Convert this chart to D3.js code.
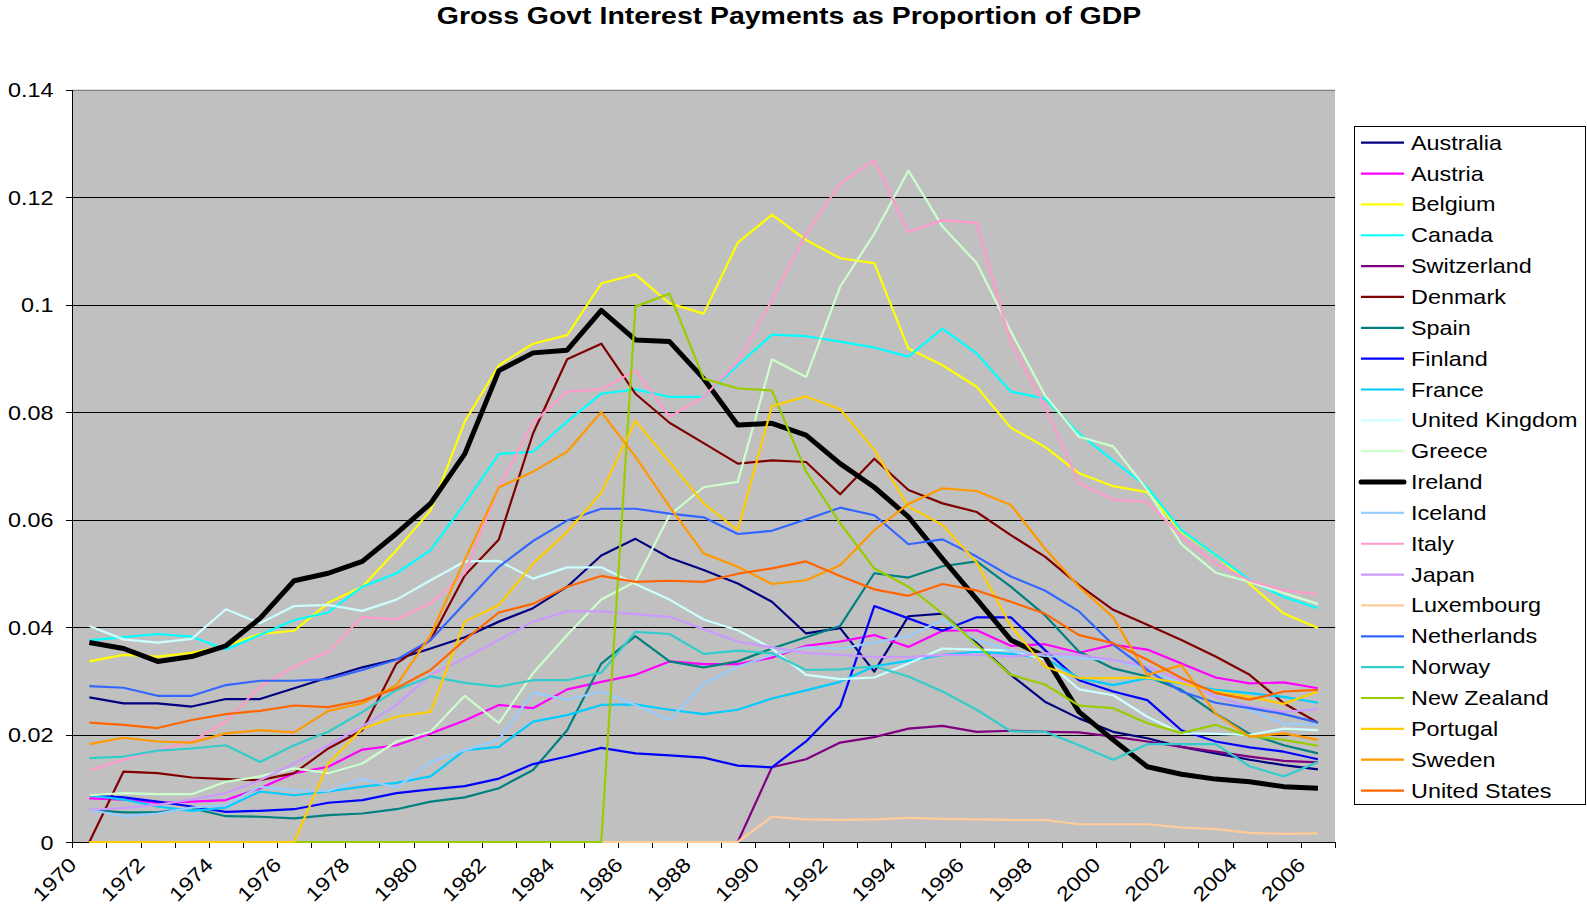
<!DOCTYPE html>
<html>
<head>
<meta charset="utf-8">
<script src="https://cdn.jsdelivr.net/npm/d3@7/dist/d3.min.js"></script>
<style>
body{margin:0;background:#fff}
svg{display:block}
</style>
</head>
<body>
<svg id="chart" width="1587" height="912"></svg>
<script>
// ---- data ----
var years = [1970,1971,1972,1973,1974,1975,1976,1977,1978,1979,1980,1981,1982,1983,1984,1985,1986,1987,1988,1989,
             1990,1991,1992,1993,1994,1995,1996,1997,1998,1999,2000,2001,2002,2003,2004,2005,2006]
var yearLabels = [1970,1972,1974,1976,1978,1980,1982,1984,1986,1988,1990,1992,1994,1996,1998,2000,2002,2004,2006]
var yTicks = [0,0.02,0.04,0.06,0.08,0.1,0.12,0.14]
var yTickLabels = ["0","0.02","0.04","0.06","0.08","0.1","0.12","0.14"]

var australia = [0.0269,0.0258,0.0258,0.0252,0.0266,0.0266,0.0286,0.0306,0.0325,0.0340,0.0360,0.0381,0.0410,0.0435,0.0475,0.0533,0.0564,0.0529,0.0506,0.0481,0.0447,0.0388,0.0398,0.0317,0.0420,0.0425,0.0370,0.0311,0.0261,0.0230,0.0205,0.0193,0.0177,0.0165,0.0153,0.0143,0.0135]
var austria = [0.0081,0.0079,0.0073,0.0075,0.0078,0.0100,0.0128,0.0140,0.0172,0.0180,0.0202,0.0226,0.0255,0.0249,0.0284,0.0298,0.0311,0.0336,0.0331,0.0331,0.0343,0.0365,0.0373,0.0385,0.0363,0.0393,0.0394,0.0365,0.0368,0.0352,0.0367,0.0358,0.0332,0.0306,0.0295,0.0297,0.0286]
var belgium = [0.0336,0.0348,0.0345,0.0352,0.0365,0.0387,0.0393,0.0445,0.0475,0.0543,0.0617,0.0782,0.0887,0.0927,0.0943,0.1039,0.1056,0.1002,0.0983,0.1115,0.1167,0.1120,0.1086,0.1077,0.0918,0.0887,0.0847,0.0771,0.0735,0.0686,0.0662,0.0651,0.0577,0.0534,0.0480,0.0425,0.0398]
var canada = [0.0375,0.0381,0.0387,0.0382,0.0358,0.0385,0.0413,0.0427,0.0475,0.0500,0.0543,0.0630,0.0722,0.0726,0.0782,0.0834,0.0842,0.0828,0.0828,0.0887,0.0944,0.0941,0.0931,0.0920,0.0903,0.0955,0.0909,0.0838,0.0825,0.0760,0.0710,0.0660,0.0580,0.0534,0.0487,0.0456,0.0435]
var switzerland = [0,0,0,0,0,0,0,0,0,0,0,0,0,0,0,0,0,0,0,0,0.0139,0.0154,0.0185,0.0195,0.0211,0.0216,0.0205,0.0207,0.0205,0.0204,0.0196,0.0187,0.0177,0.0168,0.0159,0.0151,0.0148]
var denmark = [0,0.0131,0.0128,0.0120,0.0117,0.0115,0.0128,0.0174,0.0208,0.0332,0.0376,0.0496,0.0563,0.0760,0.0898,0.0927,0.0834,0.0780,0.0742,0.0704,0.0710,0.0707,0.0647,0.0713,0.0655,0.0630,0.0614,0.0571,0.0531,0.0478,0.0432,0.0404,0.0376,0.0345,0.0311,0.0258,0.0222]
var spain = [0.0060,0.0055,0.0055,0.0063,0.0048,0.0047,0.0044,0.0050,0.0053,0.0061,0.0075,0.0083,0.0100,0.0134,0.0208,0.0332,0.0383,0.0336,0.0325,0.0336,0.0360,0.0381,0.0402,0.0500,0.0492,0.0513,0.0522,0.0475,0.0422,0.0354,0.0323,0.0308,0.0283,0.0239,0.0201,0.0180,0.0165]
var finland = [0.0087,0.0083,0.0075,0.0066,0.0056,0.0058,0.0061,0.0073,0.0078,0.0091,0.0098,0.0104,0.0118,0.0145,0.0159,0.0175,0.0165,0.0161,0.0157,0.0142,0.0139,0.0187,0.0252,0.0439,0.0416,0.0393,0.0418,0.0418,0.0357,0.0301,0.0280,0.0264,0.0208,0.0187,0.0176,0.0168,0.0154]
var france = [0.0087,0.0079,0.0066,0.0058,0.0064,0.0094,0.0087,0.0094,0.0103,0.0110,0.0122,0.0171,0.0177,0.0224,0.0236,0.0255,0.0256,0.0246,0.0238,0.0246,0.0267,0.0282,0.0298,0.0327,0.0337,0.0348,0.0354,0.0350,0.0342,0.0305,0.0292,0.0305,0.0294,0.0283,0.0277,0.0270,0.0259]
var unitedKingdom = [0.0402,0.0377,0.0371,0.0378,0.0433,0.0407,0.0439,0.0441,0.0430,0.0451,0.0487,0.0522,0.0523,0.0490,0.0511,0.0511,0.0480,0.0451,0.0414,0.0394,0.0360,0.0311,0.0303,0.0306,0.0332,0.0360,0.0358,0.0357,0.0339,0.0284,0.0273,0.0233,0.0202,0.0201,0.0199,0.0211,0.0208]
var greece = [0.0087,0.0091,0.0089,0.0089,0.0112,0.0122,0.0137,0.0128,0.0146,0.0187,0.0205,0.0272,0.0221,0.0314,0.0385,0.0451,0.0484,0.0608,0.0660,0.0670,0.0898,0.0865,0.1033,0.1132,0.1249,0.1145,0.1077,0.0950,0.0831,0.0754,0.0736,0.0655,0.0554,0.0501,0.0484,0.0463,0.0443]
var ireland = [0.0371,0.0360,0.0336,0.0345,0.0365,0.0416,0.0486,0.0500,0.0522,0.0574,0.0630,0.0722,0.0877,0.0910,0.0915,0.0989,0.0934,0.0931,0.0862,0.0776,0.0779,0.0757,0.0704,0.0660,0.0605,0.0527,0.0452,0.0376,0.0345,0.0242,0.0190,0.0140,0.0126,0.0117,0.0112,0.0103,0.0100]
var iceland = [0.0060,0.0048,0.0053,0.0064,0.0069,0.0103,0.0096,0.0095,0.0117,0.0101,0.0149,0.0171,0.0190,0.0278,0.0265,0.0280,0.0255,0.0227,0.0295,0.0326,0.0348,0.0362,0.0360,0.0371,0.0383,0.0413,0.0376,0.0356,0.0346,0.0342,0.0339,0.0320,0.0295,0.0277,0.0245,0.0220,0.0218]
var italy = [0.0133,0.0153,0.0171,0.0187,0.0224,0.0289,0.0326,0.0354,0.0419,0.0414,0.0444,0.0500,0.0660,0.0780,0.0838,0.0842,0.0877,0.0791,0.0828,0.0893,0.1008,0.1132,0.1225,0.1268,0.1135,0.1157,0.1152,0.0930,0.0810,0.0667,0.0637,0.0633,0.0568,0.0518,0.0486,0.0468,0.0461]
var japan = [0.0060,0.0063,0.0069,0.0079,0.0091,0.0115,0.0146,0.0180,0.0215,0.0255,0.0311,0.0342,0.0376,0.0410,0.0429,0.0429,0.0424,0.0419,0.0396,0.0373,0.0362,0.0352,0.0348,0.0344,0.0344,0.0348,0.0348,0.0345,0.0351,0.0348,0.0339,0.0326,0.0301,0.0270,0.0252,0.0242,0.0247]
var luxembourg = [0,0,0,0,0,0,0,0,0,0,0,0,0,0,0,0,0,0,0,0,0.0047,0.0042,0.0041,0.0042,0.0045,0.0043,0.0042,0.0041,0.0041,0.0033,0.0033,0.0033,0.0027,0.0024,0.0017,0.0015,0.0016]
var netherlands = [0.0290,0.0287,0.0272,0.0272,0.0292,0.0300,0.0300,0.0303,0.0320,0.0339,0.0376,0.0444,0.0512,0.0560,0.0598,0.0620,0.0620,0.0611,0.0604,0.0573,0.0579,0.0600,0.0622,0.0608,0.0554,0.0563,0.0531,0.0494,0.0468,0.0429,0.0367,0.0320,0.0280,0.0259,0.0249,0.0238,0.0222]
var norway = [0.0156,0.0159,0.0170,0.0174,0.0180,0.0149,0.0180,0.0205,0.0242,0.0283,0.0308,0.0296,0.0289,0.0301,0.0301,0.0315,0.0391,0.0387,0.0350,0.0356,0.0351,0.0320,0.0321,0.0327,0.0308,0.0280,0.0246,0.0206,0.0205,0.0180,0.0153,0.0182,0.0182,0.0182,0.0141,0.0122,0.0149]
var newZealand = [0,0,0,0,0,0,0,0,0,0,0,0,0,0,0,0,0.0996,0.1020,0.0862,0.0844,0.0840,0.0689,0.0593,0.0509,0.0475,0.0425,0.0367,0.0311,0.0293,0.0254,0.0249,0.0221,0.0203,0.0218,0.0197,0.0190,0.0179]
var portugal = [0,0,0,0,0,0,0,0.0146,0.0211,0.0233,0.0242,0.0410,0.0441,0.0518,0.0577,0.0650,0.0784,0.0707,0.0630,0.0580,0.0811,0.0829,0.0805,0.0730,0.0624,0.0590,0.0520,0.0402,0.0326,0.0305,0.0305,0.0306,0.0295,0.0280,0.0270,0.0257,0.0280]
var sweden = [0.0182,0.0194,0.0187,0.0185,0.0202,0.0208,0.0204,0.0244,0.0258,0.0292,0.0385,0.0525,0.0660,0.0689,0.0726,0.0800,0.0717,0.0624,0.0537,0.0512,0.0480,0.0487,0.0515,0.0580,0.0629,0.0658,0.0653,0.0627,0.0546,0.0475,0.0418,0.0311,0.0329,0.0239,0.0196,0.0202,0.0190]
var unitedStates = [0.0222,0.0218,0.0212,0.0227,0.0238,0.0244,0.0254,0.0251,0.0263,0.0286,0.0320,0.0376,0.0427,0.0443,0.0475,0.0495,0.0484,0.0486,0.0484,0.0499,0.0509,0.0522,0.0495,0.0470,0.0458,0.0480,0.0468,0.0447,0.0425,0.0385,0.0370,0.0339,0.0305,0.0277,0.0265,0.0280,0.0283]

var seriesNames = ["Australia","Austria","Belgium","Canada","Switzerland","Denmark","Spain","Finland","France",
                   "United Kingdom","Greece","Ireland","Iceland","Italy","Japan","Luxembourg","Netherlands",
                   "Norway","New Zealand","Portugal","Sweden","United States"]
var seriesValues = [australia,austria,belgium,canada,switzerland,denmark,spain,finland,france,
                    unitedKingdom,greece,ireland,iceland,italy,japan,luxembourg,netherlands,
                    norway,newZealand,portugal,sweden,unitedStates]
var seriesColors = ["#000080","#FF00FF","#FFFF00","#00FFFF","#800080","#800000","#008080","#0000FF","#00CCFF",
                    "#CCFFFF","#CCFFCC","#000000","#99CCFF","#FF99CC","#CC99FF","#FFCC99","#3366FF",
                    "#33CCCC","#99CC00","#FFCC00","#FF9900","#FF6600"]

// ---- layout ----
var font = "Arial, 'Liberation Sans', sans-serif"
var stretch = 1.17
var plotL = 72.3, plotR = 1335, plotT = 89.5, plotB = 842

var svg = d3.select("#chart")

var xScale = d3.scaleBand().domain(years).range([plotL, plotR])
var xEdge = d3.scaleLinear().domain([0, years.length]).range([plotL, plotR])
var yScale = d3.scaleLinear().domain([0, 0.14]).range([plotB, plotT])
var bw = xScale.bandwidth()

//---plot background---
svg.append("rect")
  .attr("x", plotL)
  .attr("y", plotT)
  .attr("width", plotR - plotL)
  .attr("height", plotB - plotT)
  .attr("fill", "#C0C0C0")

//---horizontal gridlines---
var grid = svg.append("g")
  .attr("transform", "translate(" + plotL + ",0)")
  .attr("shape-rendering", "crispEdges")
  .call(d3.axisLeft(yScale)
    .tickValues(yTicks.slice(1))
    .tickSize(-(plotR - plotL))
    .tickFormat(""))
grid.select(".domain").remove()
grid.selectAll("line").attr("stroke", function(d){ return d == 0.14 ? "#808080" : "#000" })

//---title---
svg.append("text")
  .attr("transform", "translate(789,24)scale(" + stretch + ",1)")
  .attr("text-anchor", "middle")
  .attr("font-family", font)
  .attr("font-size", "24.3px")
  .attr("font-weight", "bold")
  .attr("fill", "#000")
  .text("Gross Govt Interest Payments as Proportion of GDP")

//---y axis---
var yAxisG = svg.append("g")
  .attr("transform", "translate(" + plotL + ",0)")
  .attr("shape-rendering", "crispEdges")
  .call(d3.axisLeft(yScale)
    .tickValues(yTicks)
    .tickSize(6)
    .tickFormat(function(d, i){ return yTickLabels[i] }))
yAxisG.select(".domain").attr("stroke", "#000").attr("d", "M0.5," + plotT + "V" + plotB)
yAxisG.selectAll("line").attr("stroke", "#000")
yAxisG.selectAll("text")
  .attr("font-family", font)
  .attr("font-size", "20px")
  .attr("fill", "#000")
  .attr("x", -16)
  .attr("dy", "0.35em")
  .attr("transform", "scale(" + stretch + ",1)")

//---x axis (ticks on category boundaries)---
var xAxisG = svg.append("g")
  .attr("transform", "translate(0," + plotB + ")")
  .attr("shape-rendering", "crispEdges")
  .call(d3.axisBottom(xEdge)
    .tickValues(d3.range(years.length + 1))
    .tickSize(6)
    .tickFormat(""))
xAxisG.select(".domain").attr("stroke", "#000").attr("d", "M" + plotL + ",0.5H" + plotR)
xAxisG.selectAll("line").attr("stroke", "#000")

svg.append("g").selectAll("text")
  .data(yearLabels)
  .enter().append("text")
  .attr("transform", function(d){
      var x = xEdge(years.indexOf(d)) + 5.5
      return "translate(" + x + ",866)rotate(-45)scale(" + stretch + ",1)" })
  .attr("text-anchor", "end")
  .attr("font-family", font)
  .attr("font-size", "20px")
  .attr("fill", "#000")
  .text(function(d){ return d })

//---series lines---
var line = d3.line()
  .x(function(d, i){ return xScale(years[i]) + bw / 2 })
  .y(function(d){ return yScale(d) })

svg.append("g").selectAll("path")
  .data(seriesValues)
  .enter().append("path")
  .attr("d", line)
  .attr("fill", "none")
  .attr("stroke", function(d, i){ return seriesColors[i] })
  .attr("stroke-width", function(d, i){ return seriesNames[i] == "Ireland" ? 5 : 2.2 })
  .attr("stroke-linejoin", "round")

//---legend---
var legendG = svg.append("g")
legendG.append("rect")
  .attr("x", 1354.5)
  .attr("y", 126.5)
  .attr("width", 231)
  .attr("height", 678)
  .attr("fill", "#fff")
  .attr("stroke", "#000")
  .attr("stroke-width", 1)

var item = legendG.selectAll("g.item")
  .data(seriesNames)
  .enter().append("g")
  .attr("class", "item")
  .attr("transform", function(d, i){ return "translate(0," + (142.7 + 30.85 * i) + ")" })

item.append("line")
  .attr("x1", 1361)
  .attr("x2", 1404)
  .attr("y1", 0)
  .attr("y2", 0)
  .attr("stroke", function(d, i){ return seriesColors[i] })
  .attr("stroke-width", function(d){ return d == "Ireland" ? 5 : 2.2 })
  .attr("stroke-linecap", function(d){ return d == "Ireland" ? "round" : "butt" })

item.append("text")
  .attr("transform", "translate(1411,0)scale(" + stretch + ",1)")
  .attr("dy", "0.35em")
  .attr("font-family", font)
  .attr("font-size", "20px")
  .attr("fill", "#000")
  .text(function(d){ return d })
</script>
</body>
</html>
